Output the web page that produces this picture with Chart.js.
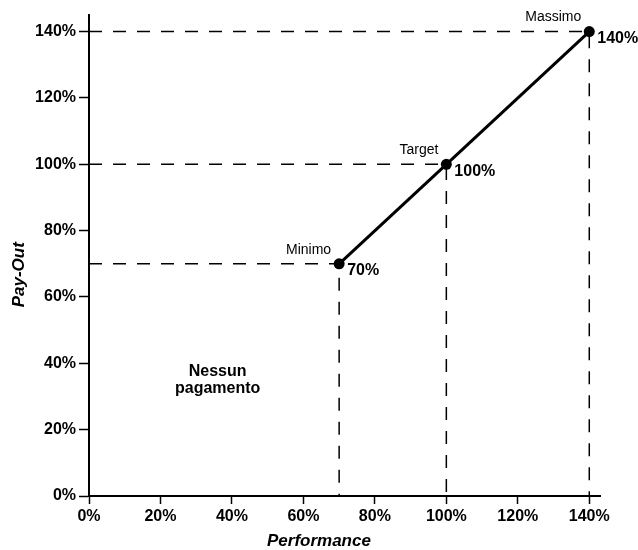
<!DOCTYPE html>
<html>
<head>
<meta charset="utf-8">
<script src="https://cdn.jsdelivr.net/npm/chart.js@4/dist/chart.umd.min.js"></script>
<style>
  html, body { margin: 0; background: #fff; }
  #wrap { width: 638px; height: 550px; }
</style>
</head>
<body>
<div id="wrap"><canvas id="myChart"></canvas></div>
<script>
const pointNames = ["Minimo", "Target", "Massimo"];
const performance = [70, 100, 140];
const payOut = [70, 100, 140];
const tickValues = [0, 20, 40, 60, 80, 100, 120, 140];
const noPayText = ["Nessun", "pagamento"];
const xTitle = "Performance";
const yTitle = "Pay-Out";

const fontFamily = '"Liberation Sans", Arial, Helvetica, sans-serif';

const points = performance.map((p, i) => ({ x: p, y: payOut[i] }));

// dashed guides: from the y axis to each point, then down to the x axis
const guideSets = points.map((pt) => ({
  data: [{ x: 0, y: pt.y }, { x: pt.x, y: pt.y }, { x: pt.x, y: 0 }],
  showLine: true,
  borderColor: "#000",
  borderWidth: 1.5,
  borderDash: [13, 11],
  pointRadius: 0,
  order: 1,
}));

const labelPlugin = {
  id: "pointLabels",
  afterDatasetsDraw(chart) {
    const { ctx, chartArea, scales: { x, y } } = chart;
    ctx.save();
    ctx.fillStyle = "#000";
    ctx.textBaseline = "middle";
    points.forEach((pt, i) => {
      const px = x.getPixelForValue(pt.x);
      const py = y.getPixelForValue(pt.y);
      ctx.font = "14px " + fontFamily;
      ctx.textAlign = "right";
      ctx.fillText(pointNames[i], px - 8, py - 14);
      ctx.font = "bold 16px " + fontFamily;
      ctx.textAlign = "left";
      ctx.fillText(payOut[i] + "%", px + 8, py + 7);
    });
    // "no payment" note in the empty area
    ctx.font = "bold 16px " + fontFamily;
    ctx.textAlign = "center";
    const nx = x.getPixelForValue(36);
    const ny = y.getPixelForValue(35);
    ctx.fillText(noPayText[0], nx, ny - 8);
    ctx.fillText(noPayText[1], nx, ny + 9);

    // axis titles, a bit off-centre like the original
    ctx.font = "italic bold 17px " + fontFamily;
    ctx.fillText(xTitle, chartArea.left + (chartArea.right - chartArea.left) * 0.45, chart.height - 9);
    ctx.translate(19, chartArea.top + (chartArea.bottom - chartArea.top) * 0.54);
    ctx.rotate(-Math.PI / 2);
    ctx.fillText(yTitle, 0, 0);
    ctx.restore();
  },
};

const axisStyle = {
  grid: {
    display: true,
    drawOnChartArea: false,
    drawTicks: true,
    tickColor: "#000",
    tickWidth: 1.5,
  },
  border: { display: true, color: "#000", width: 2 },
};

new Chart(document.getElementById("myChart"), {
  type: "scatter",
  data: {
    datasets: [
      {
        data: points,
        showLine: true,
        borderColor: "#000",
        backgroundColor: "#000",
        borderWidth: 3,
        pointRadius: 5.5,
        pointBorderWidth: 0,
        clip: false,
        order: 0,
      },
      ...guideSets,
    ],
  },
  options: {
    responsive: true,
    maintainAspectRatio: false,
    animation: false,
    layout: { padding: { top: 15, right: 38, bottom: 0, left: 0 } },
    plugins: {
      legend: { display: false },
      tooltip: { enabled: false },
    },
    scales: {
      x: {
        type: "linear",
        min: 0,
        max: 143,
        afterBuildTicks: (scale) => {
          scale.ticks = tickValues.map((v) => ({ value: v }));
        },
        afterFit: (scale) => { scale.height = 54; },
        ticks: {
          color: "#000",
          padding: 3,
          font: { family: fontFamily, size: 16, weight: "bold" },
          callback: (v) => v + "%",
        },
        grid: { ...axisStyle.grid, tickLength: 8 },
        border: axisStyle.border,
      },
      y: {
        type: "linear",
        min: 0,
        max: 145,
        afterBuildTicks: (scale) => {
          scale.ticks = tickValues.map((v) => ({ value: v }));
        },
        afterFit: (scale) => { scale.width = 89; },
        ticks: {
          color: "#000",
          padding: 3,
          font: { family: fontFamily, size: 16, weight: "bold" },
          callback: (v) => v + "%",
        },
        grid: { ...axisStyle.grid, tickLength: 10 },
        border: axisStyle.border,
      },
    },
  },
  plugins: [labelPlugin],
});
</script>
</body>
</html>
